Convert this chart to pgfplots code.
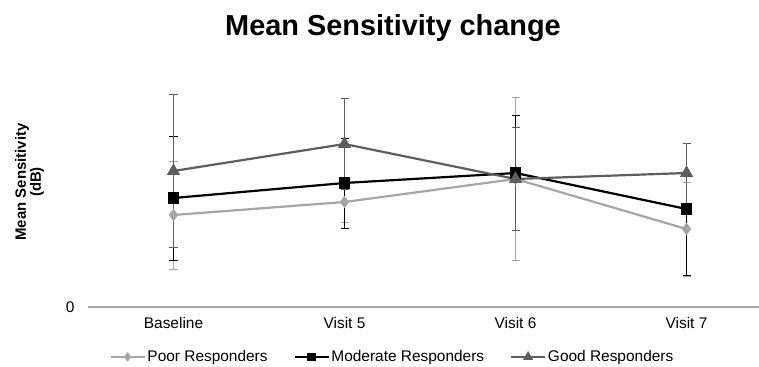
\documentclass[border=0pt]{standalone}
\usepackage{pgfplots}
\pgfplotsset{compat=1.18}
\usepackage{fontspec}
\setmainfont{Liberation Sans}
\definecolor{poorc}{HTML}{A6A6A6}
\definecolor{goodc}{HTML}{5E5E5E}
\definecolor{axisc}{HTML}{A6A6A6}
\begin{document}
\begin{tikzpicture}
\path[use as bounding box] (-88bp,-60bp) rectangle (671bp,307bp);
\begin{axis}[
  at={(0,0)}, anchor=south west,
  scale only axis, width=671bp, height=222bp,
  xmin=-0.5, xmax=3.424, ymin=0, ymax=222,
  axis x line*=bottom, axis y line*=left,
  x axis line style={axisc, line width=1.2pt, -},
  y axis line style={draw=none},
  xtick={0,1,2,3}, xticklabels={Baseline,Visit 5,Visit 6,Visit 7},
  ytick={0},
  major tick length=0pt,
  /pgf/number format/assume math mode=true,
  xticklabel style={font=\fontsize{15.5}{18}\selectfont, yshift=-7bp},
  yticklabel style={font=\fontsize{15.5}{18}\selectfont, xshift=-10bp},
  clip=false,
  legend columns=3,
  legend style={at={(0.4538,-0.225)}, anchor=center, draw=none, fill=none,
    font=\fontsize{15.5}{18}\selectfont,
    /tikz/every even column/.append style={column sep=24bp},
    inner sep=0pt},
  legend image code/.code={%
    \draw[#1, line width=1.8pt, /tikz/every mark/.append style={scale=0.75}, mark repeat=2, mark phase=2] plot coordinates {(0bp,0bp) (17bp,0bp) (34bp,0bp)};},
  every axis plot/.append style={line width=2.2pt},
  error bars/error bar style={line width=1pt},
  error bars/error mark options={rotate=90, mark size=4bp, line width=1pt},
]
\addplot[color=poorc, mark=diamond*, mark size=4.5bp, mark options={solid},
  error bars/.cd, y dir=both, y explicit]
  table[x=x, y=y, y error=e] {
x y e
0 92 54
1 105 20
2 128 81
3 78 47
};
\addlegendentry{Poor Responders}
\addplot[color=black, mark=square*, mark size=4.5bp, mark options={solid},
  error bars/.cd, y dir=both, y explicit]
  table[x=x, y=y, y error=e] {
x y e
0 109 62
1 124 45
2 134 57
3 98 66
};
\addlegendentry{Moderate Responders}
\addplot[color=goodc, mark=triangle*, mark size=5.5bp, mark options={solid},
  error bars/.cd, y dir=both, y explicit]
  table[x=x, y=y, y error=e] {
x y e
0 136 76
1 163 45
2 128 51
3 134 30
};
\addlegendentry{Good Responders}
\end{axis}
\node[font=\fontsize{29}{34}\selectfont\bfseries, anchor=base] at (305bp,271bp) {Mean Sensitivity change};
\node[font=\fontsize{15}{15}\selectfont\bfseries, rotate=90, align=center] at (-58.5bp,125bp) {Mean Sensitivity\\(dB)};
\end{tikzpicture}
\end{document}
